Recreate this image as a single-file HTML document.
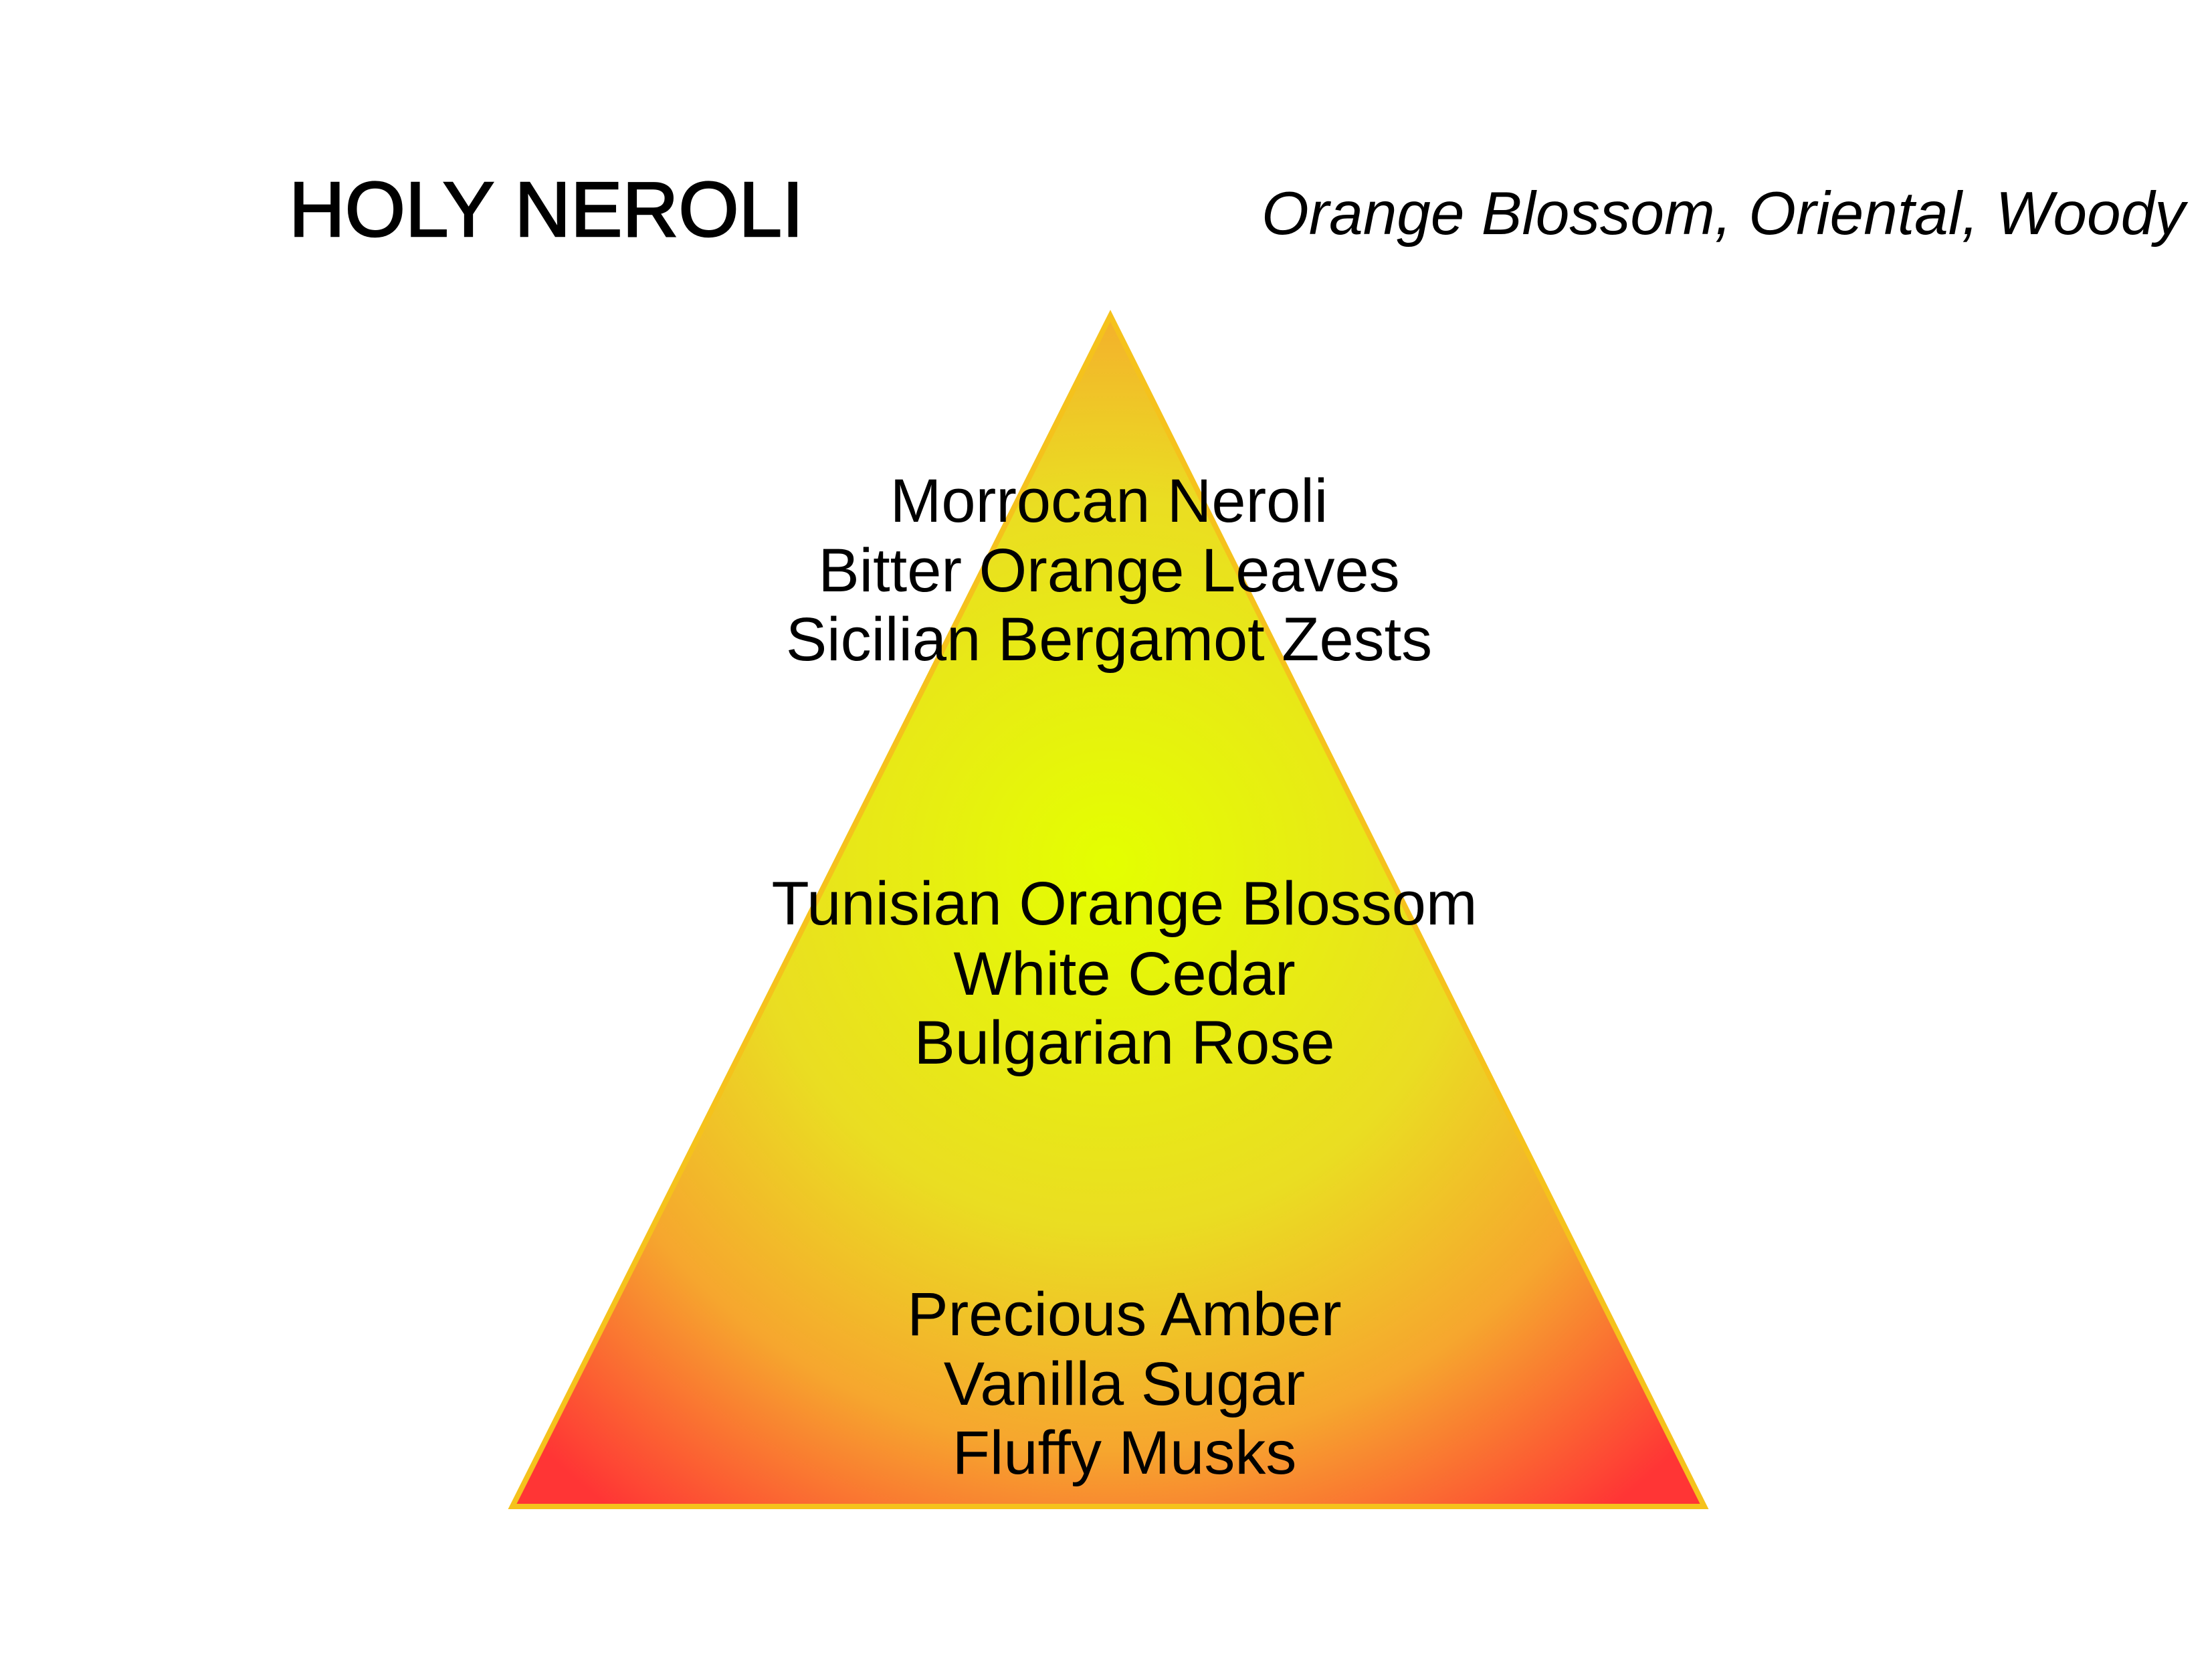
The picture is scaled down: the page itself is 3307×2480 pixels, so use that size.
<!DOCTYPE html>
<html><head><meta charset="utf-8"><style>
html,body{margin:0;padding:0;background:#fff;}
svg{display:block;}
</style></head><body>
<svg width="3307" height="2480" viewBox="0 0 3307 2480" xmlns="http://www.w3.org/2000/svg">
<defs>
<radialGradient id="g" gradientUnits="userSpaceOnUse" cx="1660" cy="1290" r="1220">
<stop offset="0" stop-color="#e4ff00"/>
<stop offset="0.45" stop-color="#eadd22"/>
<stop offset="0.72" stop-color="#f6a62e"/>
<stop offset="1" stop-color="#ff3535"/>
</radialGradient>
</defs>
<polygon points="1660,472 766,2252 2548,2252" fill="url(#g)" stroke="#f5c21c" stroke-width="8" stroke-linejoin="miter"/>
<g font-family="Liberation Sans, sans-serif" fill="#000">
<text x="432" y="353" font-size="116" stroke="#000" stroke-width="2.5">HOLY NEROLI</text>
<text x="1886" y="350" font-size="91" font-style="italic">Orange Blossom, Oriental, Woody</text>
<g font-size="92" text-anchor="middle">
<text x="1658" y="780">Morrocan Neroli</text>
<text x="1658" y="884">Bitter Orange Leaves</text>
<text x="1658" y="987">Sicilian Bergamot Zests</text>
<text x="1681" y="1382">Tunisian Orange Blossom</text>
<text x="1681" y="1487">White Cedar</text>
<text x="1681" y="1590">Bulgarian Rose</text>
<text x="1681" y="1996">Precious Amber</text>
<text x="1681" y="2100">Vanilla Sugar</text>
<text x="1681" y="2203">Fluffy Musks</text>
</g>
</g>
</svg>
</body></html>
